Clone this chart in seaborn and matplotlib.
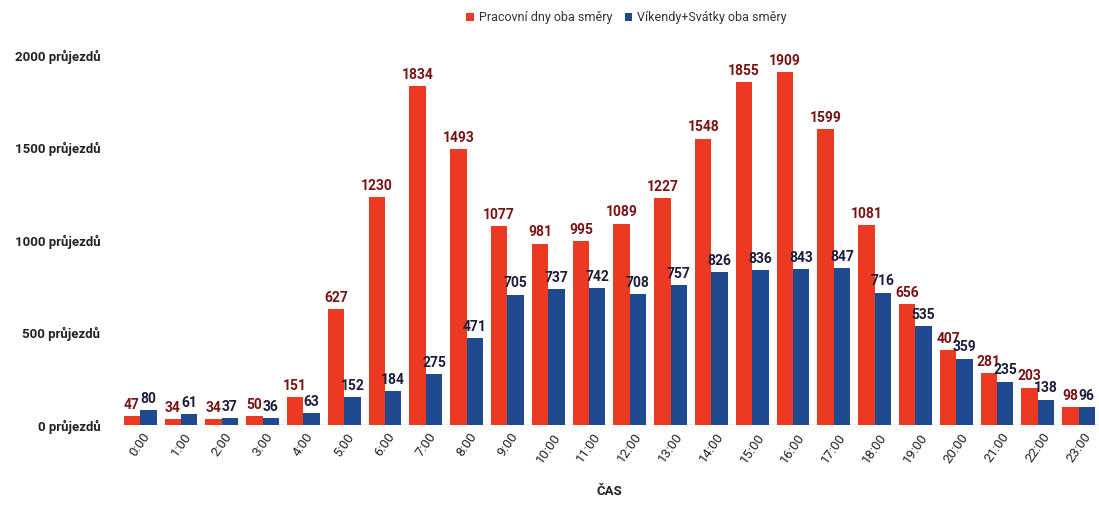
import matplotlib
matplotlib.use("Agg")
import matplotlib.pyplot as plt
import seaborn as sns
import pandas as pd

hours = [f"{h}:00" for h in range(24)]
weekday = [47, 34, 34, 50, 151, 627, 1230, 1834, 1493, 1077, 981, 995, 1089, 1227,
           1548, 1855, 1909, 1599, 1081, 656, 407, 281, 203, 98]
weekend = [80, 61, 37, 36, 63, 152, 184, 275, 471, 705, 737, 742, 708, 757,
           826, 836, 843, 847, 716, 535, 359, 235, 138, 96]
series_names = ["Pracovní dny oba směry", "Víkendy+Svátky oba směry"]
yticks = [0, 500, 1000, 1500, 2000]

df = pd.DataFrame({
    "hour": hours * 2,
    "value": weekday + weekend,
    "series": [series_names[0]] * 24 + [series_names[1]] * 24,
})

sns.set_theme(style="white")
plt.rcParams["font.family"] = ["Roboto", "DejaVu Sans"]

colors = ["#ec3a22", "#1f4a90"]
label_colors = ["#7a1414", "#1c1c3c"]

fig = plt.figure(figsize=(10.99, 5.14), dpi=100)
ax = fig.add_axes([0.109, 0.173, 0.891, 0.72])
sns.barplot(data=df, x="hour", y="value", hue="series", order=hours,
            hue_order=series_names, palette=colors, saturation=1, width=0.8, ax=ax,
            edgecolor="none", legend=True)

for cont, lc in zip(ax.containers, label_colors):
    ax.bar_label(cont, labels=[str(int(v)) for v in cont.datavalues],
                 color=lc, fontsize=10, fontweight="bold", padding=3, clip_on=False)

ax.set_xlim(-0.5, 23.5)
ax.set_ylim(0, 2000)
ax.set_yticks(yticks)
ax.set_yticklabels([f"{v} průjezdů" for v in yticks], fontsize=9.5, fontweight="bold",
                   color="#222222")
ax.tick_params(axis="y", length=0, pad=14)
ax.set_xticks(range(24))
ax.set_xticklabels(hours, rotation=55, fontsize=9.5, color="#222222")
ax.tick_params(axis="x", length=0, pad=4)
ax.set_ylabel("")
ax.set_xlabel("ČAS", fontsize=9.5, fontweight="bold", color="#222222", labelpad=14)
for s in ax.spines.values():
    s.set_visible(False)
ax.axhline(0, color="#9ab0c8", lw=1, zorder=0)

leg = ax.legend(loc="center", bbox_to_anchor=(0.57, 0.965), bbox_transform=fig.transFigure,
                ncol=2, frameon=False,
                fontsize=9, handlelength=0.6, handleheight=0.6, handletextpad=0.4,
                columnspacing=1.0)
for t in leg.get_texts():
    t.set_color("#333333")

fig.savefig("out.png", dpi=100)
